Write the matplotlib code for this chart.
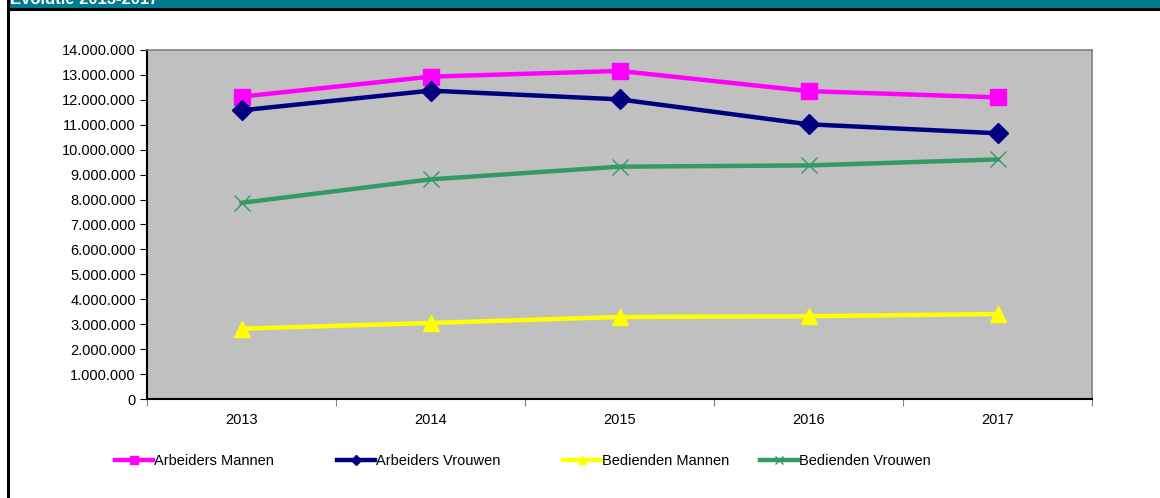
import matplotlib
matplotlib.use("Agg")
import matplotlib.pyplot as plt
from matplotlib.patches import Rectangle
from matplotlib.lines import Line2D
from matplotlib.ticker import FuncFormatter, FixedLocator

plt.rcParams['font.family'] = ['Liberation Sans', 'DejaVu Sans']

years = ["2013", "2014", "2015", "2016", "2017"]
arbeiders_mannen = [12130000, 12930000, 13160000, 12350000, 12100000]
arbeiders_vrouwen = [11580000, 12370000, 12020000, 11020000, 10660000]
bedienden_mannen = [2820000, 3050000, 3290000, 3320000, 3410000]
bedienden_vrouwen = [7870000, 8810000, 9320000, 9370000, 9610000]
series_names = ["Arbeiders Mannen", "Arbeiders Vrouwen", "Bedienden Mannen", "Bedienden Vrouwen"]
title = "Evolutie 2013-2017"

W, H = 1160, 498
fig = plt.figure(figsize=(W / 100, H / 100), dpi=100)

# header bar and frame
fig.patches.append(Rectangle((8 / W, 1 - 9 / H), 1, 9 / H, transform=fig.transFigure,
                             facecolor="#017B8F", edgecolor="none", zorder=0))
fig.add_artist(Line2D([8 / W, 1], [1 - 9.5 / H, 1 - 9.5 / H], transform=fig.transFigure,
                      color="black", lw=2.2))
fig.add_artist(Line2D([8 / W, 8 / W], [0, 1], transform=fig.transFigure,
                      color="black", lw=2.2))
fig.text(10 / W, 1 - 4 / H, title, color="white", fontsize=12, fontweight="bold",
         va="baseline", ha="left")

ax = fig.add_axes([147 / W, 99 / H, 945 / W, 349 / H])
ax.set_facecolor("#C0C0C0")

x = list(range(len(years)))
styles = [
    (arbeiders_mannen, "#FF00FF", "s", 12, None),
    (arbeiders_vrouwen, "#000080", "D", 10, None),
    (bedienden_mannen, "#FFFF00", "^", 12, None),
    (bedienden_vrouwen, "#339966", "x", 12, 1.0),
]
lines = []
for (vals, col, mk, ms, mew), name in zip(styles, series_names):
    kw = dict(color=col, lw=3.2, marker=mk, markersize=ms, label=name,
              markerfacecolor=col, markeredgecolor=col, clip_on=False)
    if mew is not None:
        kw["markeredgewidth"] = mew
    ln, = ax.plot(x, vals, **kw)
    lines.append(ln)

ax.set_xlim(-0.5, len(years) - 0.5)
ax.set_ylim(0, 14000000)
ax.yaxis.set_major_locator(FixedLocator([i * 1000000 for i in range(15)]))
ax.yaxis.set_major_formatter(FuncFormatter(lambda v, p: f"{int(round(v)):,}".replace(",", ".")))
ax.set_xticks(x)
ax.set_xticklabels(years)
ax.set_xticks([i - 0.5 for i in range(len(years) + 1)], minor=True)
ax.tick_params(axis="x", which="major", length=0, pad=10, labelsize=10.5)
ax.tick_params(axis="x", which="minor", length=5, color="#808080", width=0.8)
ax.tick_params(axis="y", which="major", length=5, width=0.8, pad=3, labelsize=10.5)

for s in ["top", "right"]:
    ax.spines[s].set_color("#808080")
    ax.spines[s].set_linewidth(1.2)
for s in ["left", "bottom"]:
    ax.spines[s].set_color("black")
    ax.spines[s].set_linewidth(1.5)

# legends, one per entry
leg_x = [115, 337, 563, 760]
for ln, lx in zip(lines, leg_x):
    lg = fig.legend(handles=[ln], loc="center left", bbox_to_anchor=(lx / W, 1 - 461 / H),
                    frameon=False, fontsize=10.5, handlelength=2.6, handletextpad=0.1,
                    borderpad=0, borderaxespad=0, markerscale=0.5)

fig.savefig("out.png", dpi=100, facecolor="white")
